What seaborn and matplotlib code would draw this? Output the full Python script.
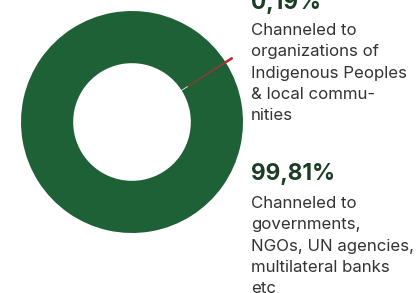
import matplotlib
matplotlib.use("Agg")
import matplotlib.pyplot as plt
import seaborn as sns

# ---- data ----
categories = ["Indigenous Peoples & local communities",
              "Governments, NGOs, UN agencies, multilateral banks etc"]
shares = [0.19, 99.81]
pct_labels = ["0,19%", "99,81%"]
desc_lines = [
    ["Channeled to", "organizations of", "Indigenous Peoples", "& local commu-", "nities"],
    ["Channeled to", "governments,", "NGOs, UN agencies,", "multilateral banks", "etc"],
]
colors = ["#c0272d", "#1f6137"]

sns.set_theme(style="white")
plt.rcParams["font.family"] = ["Inter", "DejaVu Sans"]

W, H = 416, 293
fig = plt.figure(figsize=(W / 100, H / 100), dpi=100)
fig.patch.set_facecolor("white")

# donut axes: centre (132,122) px, radius 111 px
cx, cy, r = 132, 122, 111
ax = fig.add_axes([(cx - r) / W, (H - cy - r) / H, 2 * r / W, 2 * r / H])
ax.pie(shares, colors=colors, startangle=32.2, counterclock=True,
       explode=[0.07, 0], radius=1.0,
       wedgeprops=dict(width=0.47, linewidth=0))
# outline the thin slice so it is visible
ax.patches[0].set_edgecolor(colors[0])
ax.patches[0].set_linewidth(0.9)
ax.set_xlim(-1, 1)
ax.set_ylim(-1, 1)
ax.set_aspect("auto")
ax.axis("off")

# texts
x0 = 251 / W
head_base = [9, 180]
body_base = [35, 208]
spacing = 21.25
for i in range(2):
    fig.text(x0, 1 - head_base[i] / H, pct_labels[i], ha="left", va="baseline",
             fontsize=16.3, fontweight="bold", color="#1b3d24")
    for j, line in enumerate(desc_lines[i]):
        fig.text(x0, 1 - (body_base[i] + j * spacing) / H, line, ha="left",
                 va="baseline", fontsize=12.1, color="#333333")

fig.savefig("out.png", dpi=100)
